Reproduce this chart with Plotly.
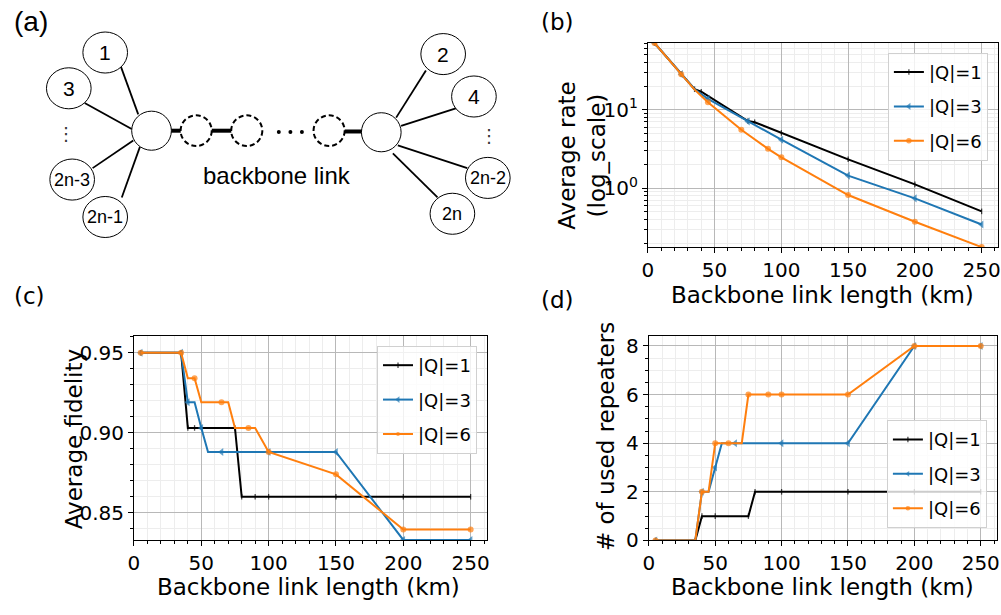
import math
import plotly.graph_objects as go

W, H = 1001, 615

# ---------------- data ----------------
series_names = ["|Q|=1", "|Q|=3", "|Q|=6"]
series_colors = ["#000000", "#1f77b4", "#ff7f0e"]

# (b) average rate vs backbone length
dist_rate_q1 = [5, 25, 35, 40, 75, 80, 100, 150, 200, 250]
rate_q1 = [71, 28.5, 18.3, 17.0, 7.2, 6.95, 5.08, 2.34, 1.12, 0.508]
dist_rate_q3 = [5, 25, 35, 45, 75, 100, 150, 200, 250]
rate_q3 = [71, 28.5, 18.3, 13.8, 7.1, 4.16, 1.45, 0.744, 0.346]
dist_rate_q6 = [5, 25, 35, 45, 70, 90, 100, 150, 200, 250]
rate_q6 = [71, 28.5, 18.1, 12.5, 5.57, 3.18, 2.48, 0.82, 0.374, 0.178]

# (c) average fidelity vs backbone length
dist_fid_q1 = [5, 35, 40, 45, 75, 80, 90, 100, 150, 200, 250]
fid_q1 = [0.95, 0.95, 0.903, 0.903, 0.903, 0.86, 0.86, 0.86, 0.86, 0.86, 0.86]
dist_fid_q3 = [5, 35, 40, 45, 50, 55, 65, 100, 150, 200, 250]
fid_q3 = [0.95, 0.95, 0.919, 0.919, 0.903, 0.888, 0.888, 0.888, 0.888, 0.833, 0.833]
dist_fid_q6 = [5, 35, 40, 45, 50, 65, 70, 75, 85, 90, 100, 150, 200, 250]
fid_q6 = [0.95, 0.95, 0.934, 0.934, 0.919, 0.919, 0.919, 0.903, 0.903, 0.903,
          0.888, 0.874, 0.8395, 0.8395]

# (d) number of used repeaters vs backbone length
dist_rep_q1 = [5, 35, 40, 50, 75, 80, 100, 150, 200, 250]
rep_q1 = [0, 0, 1, 1, 1, 2, 2, 2, 2, 2]
dist_rep_q3 = [5, 35, 40, 45, 50, 55, 65, 100, 150, 200, 250]
rep_q3 = [0, 0, 2, 2, 3, 4, 4, 4, 4, 8, 8]
dist_rep_q6 = [5, 35, 40, 45, 50, 60, 70, 75, 90, 100, 150, 200, 250]
rep_q6 = [0, 0, 2, 2, 4, 4, 4, 6, 6, 6, 6, 8, 8]

# distances at which a series' line bends without a sample marker
unmarked = {
    ("x", 1): [35], ("x", 2): [35],
    ("x2", 1): [45, 55], ("x2", 2): [40, 50, 70, 75, 90],
    ("x3", 1): [35, 45, 55], ("x3", 2): [35, 45, 70],
}

# ---------------- helpers ----------------
def fx(x):
    return x / W


def fy(y):
    return 1 - y / H


marker_styles = [
    dict(symbol="line-ns", size=4, line=dict(width=1.3, color="#000000")),
    dict(symbol="triangle-left", size=7, line=dict(width=0)),
    dict(symbol="circle", size=6, line=dict(width=0)),
]

fig = go.Figure()

panels = [
    ("x", "y", "legend", [(dist_rate_q1, rate_q1), (dist_rate_q3, rate_q3), (dist_rate_q6, rate_q6)]),
    ("x2", "y2", "legend2", [(dist_fid_q1, fid_q1), (dist_fid_q3, fid_q3), (dist_fid_q6, fid_q6)]),
    ("x3", "y3", "legend3", [(dist_rep_q1, rep_q1), (dist_rep_q3, rep_q3), (dist_rep_q6, rep_q6)]),
]

for xa, ya, leg, series in panels:
    for i, (xs, ys) in enumerate(series):
        mk = dict(marker_styles[i])
        mk["color"] = series_colors[i]
        skip = unmarked.get((xa, i), [])
        mk["size"] = [0 if x in skip else marker_styles[i]["size"] for x in xs]
        fig.add_trace(go.Scatter(
            x=xs, y=ys, mode="lines+markers", name=series_names[i],
            line=dict(color=series_colors[i], width=2),
            marker=mk, xaxis=xa, yaxis=ya, legend=leg,
            legendgroup=f"{leg}-{i}",
        ))

tick_font = dict(family="DejaVu Sans", size=20, color="black")


def axis_style(**kw):
    base = dict(
        showline=True, linecolor="black", linewidth=1, mirror=True,
        ticks="outside", ticklen=5, tickwidth=1, tickcolor="black",
        showgrid=True, gridcolor="#b8b8b8", gridwidth=1.2, zeroline=False,
        tickfont=tick_font,
    )
    base.update(kw)
    return base


def minor(**kw):
    base = dict(ticks="outside", ticklen=3, tickwidth=1, tickcolor="black",
                showgrid=True, gridcolor="#ededed", gridwidth=1)
    base.update(kw)
    return base


x_dom_b = [fx(647), fx(1000)]
x_dom_c = [fx(129), fx(485)]
x_dom_d = [fx(648), fx(999)]
y_dom_top = [fy(251), fy(42)]
y_dom_bot = [fy(551), fy(342)]

log_minor = [m * 10 ** e for e in (-1, 0, 1) for m in range(2, 10)]

fig.update_layout(
    width=W, height=H,
    margin=dict(l=0, r=0, t=0, b=0),
    paper_bgcolor="white", plot_bgcolor="white",
    font=dict(family="DejaVu Sans", color="black"),
    xaxis=axis_style(domain=x_dom_b, anchor="y", range=[0, 262.25], dtick=50, tick0=0,
                     minor=minor(dtick=10, tick0=0)),
    yaxis=axis_style(domain=y_dom_top, anchor="x", type="log",
                     range=[math.log10(0.177), math.log10(71)],
                     tickmode="array", tickvals=[1, 10],
                     ticktext=["10<sup>0</sup>", "10<sup>1</sup>"],
                     minor=minor(tickmode="array", tickvals=log_minor)),
    xaxis2=axis_style(domain=x_dom_c, anchor="y2", range=[0, 262.25], dtick=50, tick0=0,
                      minor=minor(dtick=10, tick0=0)),
    yaxis2=axis_style(domain=y_dom_bot, anchor="x2", range=[0.8327, 0.9603],
                      tickmode="array", tickvals=[0.85, 0.90, 0.95],
                      ticktext=["0.85", "0.90", "0.95"],
                      minor=minor(dtick=0.01, tick0=0)),
    xaxis3=axis_style(domain=x_dom_d, anchor="y3", range=[0, 262.25], dtick=50, tick0=0,
                      minor=minor(dtick=10, tick0=0)),
    yaxis3=axis_style(domain=y_dom_bot, anchor="x3", range=[0, 8.4], dtick=2, tick0=0,
                      minor=minor(dtick=0.5, tick0=0)),
)

legend_base = dict(
    xanchor="left", yanchor="top", bgcolor="rgba(255,255,255,0.8)",
    bordercolor="#d0d0d0", borderwidth=1, traceorder="grouped", tracegroupgap=8,
    font=dict(family="DejaVu Sans", size=18, color="black"),
)
fig.update_layout(
    legend=dict(legend_base, x=fx(889), y=fy(52)),
    legend2=dict(legend_base, x=fx(374), y=fy(352)),
    legend3=dict(legend_base, x=fx(888), y=fy(428)),
)

# ---------------- axis titles and panel labels ----------------
title_font = dict(family="DejaVu Sans", size=23, color="black")
annotations = [
    dict(text="Backbone link length (km)", x=fx(823), y=fy(300)),
    dict(text="Backbone link length (km)", x=fx(305), y=fy(599)),
    dict(text="Backbone link length (km)", x=fx(823), y=fy(599)),
    dict(text="Average rate<br>(log_scale)", x=fx(581), y=fy(157), textangle=-90),
    dict(text="Average fidelity", x=fx(68), y=fy(447), textangle=-90),
    dict(text="# of used repeaters", x=fx(605), y=fy(445), textangle=-90),
    dict(text="(b)", x=fx(556), y=fy(20)),
    dict(text="(c)", x=fx(24), y=fy(301)),
    dict(text="(d)", x=fx(556), y=fy(305)),
]
for a in annotations:
    a.update(xref="paper", yref="paper", showarrow=False, font=title_font,
             xanchor="center", yanchor="middle")
fig.update_layout(annotations=annotations)

fig.add_annotation(text="(a)", x=fx(25), y=fy(20), xref="paper", yref="paper",
                   showarrow=False, xanchor="center", yanchor="middle",
                   font=dict(family="Liberation Sans", size=28, color="black"))

# ---------------- network schematic (a) ----------------
left_hub = (146.7, 131.7)
right_hub = (378.3, 133.3)
hub_r = 20
relay_centers = [(191.7, 131.7), (242.7, 131.7), (325.7, 131.7)]
relay_r = 15.7
leaf_rx, leaf_ry = 22.5, 21

leaves = [
    ("1", 100, 51.7, 21), ("3", 63.3, 88.3, 21), ("2n-3", 66.7, 181.7, 18),
    ("2n-1", 100, 220, 18), ("2", 440.7, 53.3, 21), ("4", 471.7, 96.7, 21),
    ("2n-2", 485.7, 180, 18), ("2n", 450, 216.7, 18),
]
spokes = [
    ((116, 66.7), (133.3, 115)), ((79.3, 103.3), (126.7, 130)),
    ((87.3, 170), (128.3, 141.7)), ((116.7, 200), (135, 148.3)),
    ((423.3, 70), (393.3, 118.3)), ((455, 108.3), (398.3, 126.7)),
    ((465, 170), (395, 146.7)), ((435, 200), (390, 155)),
]
backbone_links = [((166, 131.7), (177, 131.7)), ((207, 131.7), (228, 131.7)),
                  ((341, 132.5), (359, 132.5))]

shapes = []
for (x0, y0), (x1, y1) in spokes:
    shapes.append(dict(type="line", xref="paper", yref="paper",
                       x0=fx(x0), y0=fy(y0), x1=fx(x1), y1=fy(y1),
                       line=dict(color="black", width=1.8)))
for (x0, y0), (x1, y1) in backbone_links:
    shapes.append(dict(type="line", xref="paper", yref="paper",
                       x0=fx(x0), y0=fy(y0), x1=fx(x1), y1=fy(y1),
                       line=dict(color="black", width=4)))


def ellipse(cx, cy, rx, ry, **line):
    return dict(type="circle", xref="paper", yref="paper",
                x0=fx(cx - rx), x1=fx(cx + rx), y0=fy(cy + ry), y1=fy(cy - ry),
                fillcolor="white", line=line)


for cx, cy in (left_hub, right_hub):
    shapes.append(ellipse(cx, cy, hub_r, hub_r, color="black", width=1))
for cx, cy in relay_centers:
    shapes.append(ellipse(cx, cy, relay_r, relay_r, color="black", width=2, dash="5px,3px"))
for label, cx, cy, size in leaves:
    shapes.append(ellipse(cx, cy, leaf_rx, leaf_ry, color="black", width=1))
for dx in (275, 286.7, 298.3):
    shapes.append(dict(type="circle", xref="paper", yref="paper",
                       x0=fx(dx - 2), x1=fx(dx + 2), y0=fy(135), y1=fy(131),
                       fillcolor="black", line=dict(width=0)))
fig.update_layout(shapes=shapes)

diagram_font = "Liberation Sans"
for label, cx, cy, size in leaves:
    fig.add_annotation(text=label, x=fx(cx), y=fy(cy), xref="paper", yref="paper",
                       showarrow=False, xanchor="center", yanchor="middle",
                       font=dict(family=diagram_font, size=size, color="black"))
for vx, vy in ((60, 135), (486.7, 137)):
    fig.add_annotation(text="⋮", x=fx(vx), y=fy(vy), xref="paper", yref="paper",
                       showarrow=False, xanchor="center", yanchor="middle",
                       font=dict(family="DejaVu Sans", size=18, color="#333333"))
fig.add_annotation(text="backbone link", x=fx(273), y=fy(178), xref="paper", yref="paper",
                   showarrow=False, xanchor="center", yanchor="middle",
                   font=dict(family=diagram_font, size=24, color="black"))

fig.write_html("out.html")
